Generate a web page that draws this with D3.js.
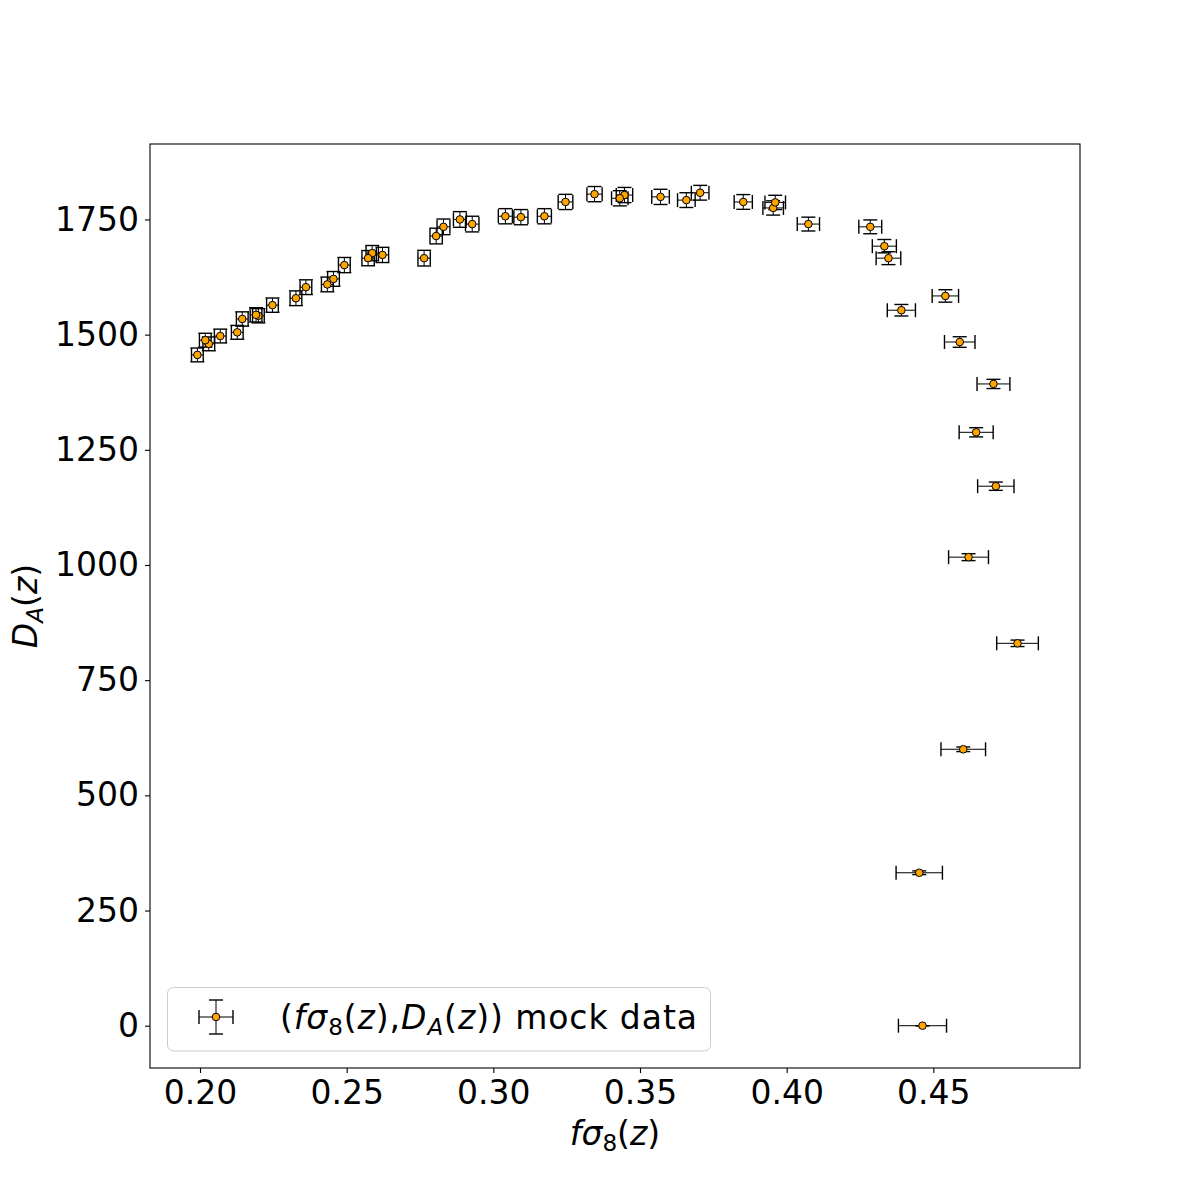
<!DOCTYPE html>
<html>
<head>
<meta charset="utf-8">
<script src="https://cdn.jsdelivr.net/npm/d3@7"></script>
<style>
  html, body { margin: 0; padding: 0; background: #fff; }
  svg text { font-family: "DejaVu Sans", sans-serif; }
</style>
</head>
<body>
<svg id="chart" width="1200" height="1200"></svg>
<script>
// fσ8(z) values
const fs8 = [0.4463, 0.4452, 0.4602, 0.4787, 0.4620, 0.4713, 0.4646, 0.4705, 0.4590, 0.4391,
             0.4541, 0.4347, 0.4333, 0.4285, 0.4074, 0.3954, 0.3961, 0.3852, 0.3705, 0.3658,
             0.3570, 0.3447, 0.3431, 0.3345, 0.3246, 0.3174, 0.3094, 0.3041, 0.2928, 0.2886,
             0.2830, 0.2805, 0.2764, 0.2622, 0.2587, 0.2573, 0.2492, 0.2455, 0.2434, 0.2361,
             0.2327, 0.2247, 0.2199, 0.2191, 0.2144, 0.2127, 0.2069, 0.2030, 0.2018, 0.1991];
// D_A(z) values
const DA = [0, 332, 600, 830, 1017, 1171, 1288, 1393, 1484, 1553,
            1584, 1666, 1692, 1734, 1740, 1775, 1787, 1788, 1808, 1792,
            1799, 1803, 1796, 1805, 1788, 1757, 1755, 1757, 1740, 1750,
            1734, 1714, 1666, 1673, 1677, 1666, 1651, 1621, 1609, 1603,
            1579, 1564, 1541, 1543, 1534, 1505, 1497, 1480, 1488, 1456];
// errors on fσ8
const fs8Err = [0.0082, 0.0079, 0.0076, 0.0071, 0.0068, 0.0062, 0.0058, 0.0056, 0.0052, 0.0048,
                0.0045, 0.0042, 0.0041, 0.0039, 0.0038, 0.0035, 0.0035, 0.0031, 0.0030, 0.0030,
                0.0030, 0.0028, 0.0028, 0.0026, 0.0025, 0.0024, 0.0024, 0.0024, 0.0023, 0.0022,
                0.0022, 0.0021, 0.0021, 0.0021, 0.0021, 0.0021, 0.0020, 0.0020, 0.0020, 0.0020,
                0.0020, 0.0020, 0.0020, 0.0020, 0.0020, 0.0020, 0.0020, 0.0020, 0.0020, 0.0020];
// errors on D_A
const DAErr = [0, 4, 5, 7, 7.5, 9, 10, 10, 11.5, 12.5,
               13.5, 14, 14.5, 15, 15, 15.5, 15.5, 16, 16, 16,
               16.5, 16.5, 16.5, 16.5, 16.5, 16.5, 16.5, 16.5, 17, 17,
               17, 17, 17, 16.5, 16.5, 16.5, 16.5, 16, 16, 16,
               16, 15.5, 15.5, 15.5, 15.5, 15, 15, 15, 15, 15];
const xTicks = [0.20, 0.25, 0.30, 0.35, 0.40, 0.45];
const yTicks = [0, 250, 500, 750, 1000, 1250, 1500, 1750];

const data = fs8.map((v, i) => ({x: v, y: DA[i], ex: fs8Err[i], ey: DAErr[i]}));

const L = 150, R = 1080, T = 144, B = 1068;
const x = d3.scaleLinear().domain([0.18295, 0.5]).range([L, R]);
const y = d3.scaleLinear().domain([-91.8, 1913.8]).range([B, T]);

const svg = d3.select("#chart");
const FS = 33;
const cap = 7;

// axes
const xAxis = svg.append("g").attr("transform", `translate(0,${B})`)
  .call(d3.axisBottom(x).tickValues(xTicks).tickFormat(d3.format(".2f")).tickSizeOuter(0).tickSize(5).tickPadding(6));
const yAxis = svg.append("g").attr("transform", `translate(${L},0)`)
  .call(d3.axisLeft(y).tickValues(yTicks).tickFormat(d3.format("d")).tickSizeOuter(0).tickSize(5).tickPadding(6));
[xAxis, yAxis].forEach(g => {
  g.select(".domain").remove();
  g.selectAll(".tick line").attr("stroke", "#000").attr("stroke-width", 1.1);
  g.selectAll(".tick text").attr("fill", "#000").style("font-size", FS + "px").style("font-family", "DejaVu Sans");
});
xAxis.selectAll(".tick text").attr("dy", "0.75em");

// error bars
const eb = svg.append("g");
const line = (x1, y1, x2, y2, w) => eb.append("line").attr("x1", x1).attr("y1", y1).attr("x2", x2).attr("y2", y2)
  .attr("stroke", "#000").attr("stroke-width", w);
data.forEach(d => {
  const cx = x(d.x), cy = y(d.y);
  const xl = x(d.x - d.ex), xr = x(d.x + d.ex);
  const yt = y(d.y + d.ey), yb = y(d.y - d.ey);
  line(xl, cy, xr, cy, 1);
  line(cx, yt, cx, yb, 1);
  line(xl, cy - cap, xl, cy + cap, 1.4);
  line(xr, cy - cap, xr, cy + cap, 1.4);
  line(cx - cap, yt, cx + cap, yt, 1.4);
  line(cx - cap, yb, cx + cap, yb, 1.4);
});
svg.append("g").selectAll("circle").data(data).join("circle")
  .attr("cx", d => x(d.x)).attr("cy", d => y(d.y)).attr("r", 3.8)
  .attr("fill", "#ffa500").attr("stroke", "#000").attr("stroke-width", 1);

// frame
svg.append("rect").attr("x", L).attr("y", T).attr("width", R - L).attr("height", B - T)
  .attr("fill", "none").attr("stroke", "#000").attr("stroke-width", 1.1);

// legend
const lg = svg.append("g");
lg.append("rect").attr("x", 167.5).attr("y", 987.5).attr("width", 543).attr("height", 63.5)
  .attr("rx", 6).attr("fill", "#fff").attr("fill-opacity", 0.8).attr("stroke", "#cccccc").attr("stroke-width", 1);
const hx = 216, hy = 1017;
[[hx - 17, hy, hx + 17, hy, 1], [hx, hy - 17, hx, hy + 17, 1],
 [hx - 17, hy - cap, hx - 17, hy + cap, 1.4], [hx + 17, hy - cap, hx + 17, hy + cap, 1.4],
 [hx - cap, hy - 17, hx + cap, hy - 17, 1.4], [hx - cap, hy + 17, hx + cap, hy + 17, 1.4]]
  .forEach(a => lg.append("line").attr("x1", a[0]).attr("y1", a[1]).attr("x2", a[2]).attr("y2", a[3])
    .attr("stroke", "#000").attr("stroke-width", a[4]));
lg.append("circle").attr("cx", hx).attr("cy", hy).attr("r", 3.8).attr("fill", "#ffa500").attr("stroke", "#000");
const lt = lg.append("text").attr("x", 280).attr("y", 1029).style("font-size", FS + "px").attr("fill", "#000")
  .attr("textLength", 417).attr("lengthAdjust", "spacing");
lt.append("tspan").text("(");
lt.append("tspan").attr("font-style", "italic").text("fσ");
lt.append("tspan").attr("font-size", "0.7em").attr("dy", 6).text("8");
lt.append("tspan").attr("dy", -6).text("(");
lt.append("tspan").attr("font-style", "italic").text("z");
lt.append("tspan").text("),");
lt.append("tspan").attr("font-style", "italic").text("D");
lt.append("tspan").attr("font-style", "italic").attr("font-size", "0.7em").attr("dy", 6).text("A");
lt.append("tspan").attr("dy", -6).text("(");
lt.append("tspan").attr("font-style", "italic").text("z");
lt.append("tspan").text(")) mock data");

// x label
const xl = svg.append("text").attr("x", (L + R) / 2).attr("y", 1145).attr("text-anchor", "middle")
  .style("font-size", FS + "px").attr("fill", "#000");
xl.append("tspan").attr("font-style", "italic").text("fσ");
xl.append("tspan").attr("font-size", "0.7em").attr("dy", 6).text("8");
xl.append("tspan").attr("dy", -6).text("(");
xl.append("tspan").attr("font-style", "italic").text("z");
xl.append("tspan").text(")");

// y label
const yl = svg.append("text").attr("transform", `translate(37,${(T + B) / 2}) rotate(-90)`).attr("text-anchor", "middle")
  .style("font-size", FS + "px").attr("fill", "#000");
yl.append("tspan").attr("font-style", "italic").text("D");
yl.append("tspan").attr("font-style", "italic").attr("font-size", "0.7em").attr("dy", 6).text("A");
yl.append("tspan").attr("dy", -6).text("(");
yl.append("tspan").attr("font-style", "italic").text("z");
yl.append("tspan").text(")");
</script>
</body>
</html>
